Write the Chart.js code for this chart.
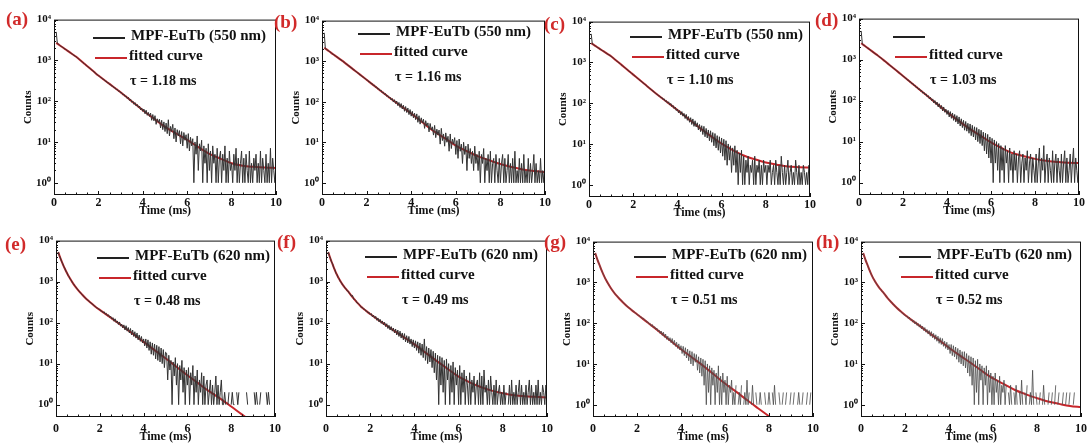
<!DOCTYPE html>
<html>
<head>
<meta charset="utf-8">
<script src="https://cdn.jsdelivr.net/npm/chart.js@4.4.0/dist/chart.umd.min.js"></script>
<style>
  body { margin: 0; width: 1088px; height: 443px; background: #fff; position: relative; overflow: hidden; font-family: "Liberation Serif", "Times New Roman", serif; }
  canvas { position: absolute; }
  .tag { position: absolute; color: #d12a2a; font-weight: bold; font-size: 19px; line-height: 1; }
  .leg-line { position: absolute; height: 2px; width: 32px; }
  .leg-text { position: absolute; font-weight: bold; color: #111; white-space: nowrap; line-height: 1; }
</style>
</head>
<body>
<script>
// time axis of the measured decays (ms)
const dataTime = [
  0.1, 0.15, 0.2, 0.25, 0.3, 0.35, 0.4, 0.45, 0.5, 0.55, 0.6, 0.65, 0.7, 0.75, 0.8, 0.85, 0.9, 0.95, 1,
  1.05, 1.1, 1.15, 1.2, 1.25, 1.3, 1.35, 1.4, 1.45, 1.5, 1.55, 1.6, 1.65, 1.7, 1.75, 1.8, 1.85, 1.9, 1.95, 2,
  2.05, 2.1, 2.15, 2.2, 2.25, 2.3, 2.35, 2.4, 2.45, 2.5, 2.55, 2.6, 2.65, 2.7, 2.75, 2.8, 2.85, 2.9, 2.95, 3,
  3.05, 3.1, 3.15, 3.2, 3.25, 3.3, 3.35, 3.4, 3.45, 3.5, 3.55, 3.6, 3.65, 3.7, 3.75, 3.8, 3.85, 3.9, 3.95, 4,
  4.05, 4.1, 4.15, 4.2, 4.25, 4.3, 4.35, 4.4, 4.45, 4.5, 4.55, 4.6, 4.65, 4.7, 4.75, 4.8, 4.85, 4.9, 4.95, 5,
  5.05, 5.1, 5.15, 5.2, 5.25, 5.3, 5.35, 5.4, 5.45, 5.5, 5.55, 5.6, 5.65, 5.7, 5.75, 5.8, 5.85, 5.9, 5.95, 6,
  6.05, 6.1, 6.15, 6.2, 6.25, 6.3, 6.35, 6.4, 6.45, 6.5, 6.55, 6.6, 6.65, 6.7, 6.75, 6.8, 6.85, 6.9, 6.95, 7,
  7.05, 7.1, 7.15, 7.2, 7.25, 7.3, 7.35, 7.4, 7.45, 7.5, 7.55, 7.6, 7.65, 7.7, 7.75, 7.8, 7.85, 7.9, 7.95, 8,
  8.05, 8.1, 8.15, 8.2, 8.25, 8.3, 8.35, 8.4, 8.45, 8.5, 8.55, 8.6, 8.65, 8.7, 8.75, 8.8, 8.85, 8.9, 8.95, 9,
  9.05, 9.1, 9.15, 9.2, 9.25, 9.3, 9.35, 9.4, 9.45, 9.5, 9.55, 9.6, 9.65, 9.7, 9.75, 9.8, 9.85, 9.9, 9.95, 10
];

// time axis of the fitted curves (ms)
const fitTime = [0.1, 0.2, 0.3, 0.4, 0.5, 0.6, 0.8, 1, 1.2, 1.4, 1.6, 1.8, 2, 2.5, 3, 3.5, 4, 4.5, 5, 5.5, 6, 6.5, 7, 7.5, 8, 8.5, 9, 9.5, 10];

// measured counts, 550 nm panels (a)-(d)
const decayA = [
  5000, 2600, 2480, 2370, 2250, 2170, 2060, 1990, 1880, 1820, 1730, 1670, 1580, 1530, 1450, 1400, 1320, 1290, 1210,
  1170, 1090, 1050, 980, 945, 880, 850, 795, 765, 712, 690, 640, 622, 575, 560, 515, 505, 462, 455, 418,
  410, 378, 375, 342, 342, 310, 312, 282, 285, 256, 258, 233, 236, 212, 214, 192, 196, 175, 178, 160,
  162, 143, 148, 130, 134, 116, 124, 104, 112, 94, 101, 84, 92, 76, 83, 70, 76, 61, 68, 56,
  64, 49, 60, 45, 53, 42, 51, 34, 47, 33, 44, 27, 37, 30, 36, 22, 34, 20, 31, 18,
  29, 16, 35, 14, 24, 18, 27, 12, 22, 10, 20, 14, 19, 9, 18, 8, 17, 11, 15, 7,
  16, 6, 13, 8, 12, 1, 10, 5, 14, 2, 9, 6, 11, 1, 8, 3, 7, 1, 9, 2,
  6, 1, 8, 3, 5, 1, 7, 1, 4, 6, 1, 5, 2, 8, 1, 4, 1, 6, 2, 3,
  1, 5, 2, 7, 1, 4, 1, 3, 6, 1, 4, 1, 5, 2, 1, 6, 1, 3, 1, 4,
  2, 5, 1, 3, 1, 6, 1, 4, 2, 1, 5, 1, 3, 1, 7, 1, 4, 2, 1, 3
];
const decayB = [
  5000, 2020, 1980, 1840, 1800, 1680, 1640, 1530, 1490, 1400, 1370, 1280, 1250, 1160, 1140, 1060, 1040, 965, 940,
  900, 835, 815, 755, 740, 680, 672, 615, 610, 560, 552, 505, 500, 455, 452, 412, 410, 375, 372, 340,
  338, 305, 308, 278, 280, 250, 256, 226, 232, 204, 210, 185, 192, 166, 172, 150, 158, 136, 142, 124,
  130, 110, 120, 98, 112, 90, 104, 80, 96, 72, 90, 66, 82, 58, 76, 54, 70, 48, 64, 44,
  58, 40, 52, 36, 50, 31, 45, 28, 40, 30, 37, 22, 34, 25, 30, 18, 29, 20, 24, 15,
  26, 13, 21, 15, 20, 9, 22, 11, 16, 8, 17, 10, 14, 6, 16, 7, 12, 9, 13, 5,
  11, 4, 12, 6, 9, 3, 10, 5, 8, 2, 9, 4, 7, 3, 6, 2, 8, 3, 5, 2,
  6, 1, 5, 3, 7, 1, 4, 2, 5, 1, 6, 1, 3, 4, 1, 5, 2, 1, 4, 1,
  3, 5, 1, 4, 1, 2, 5, 1, 3, 1, 4, 1, 6, 1, 2, 1, 4, 1, 3, 1,
  5, 1, 2, 1, 4, 1, 3, 1, 2, 5, 1, 3, 1, 2, 1, 4, 1, 2, 1, 3
];
const decayC = [
  5000, 2810, 2730, 2600, 2510, 2390, 2310, 2200, 2130, 2030, 1960, 1870, 1810, 1720, 1665, 1590, 1535, 1460, 1415,
  1335, 1280, 1205, 1155, 1085, 1040, 978, 940, 882, 848, 795, 762, 716, 690, 646, 620, 582, 560, 525, 505,
  472, 456, 425, 410, 383, 370, 345, 335, 310, 302, 280, 272, 251, 246, 226, 222, 204, 200, 184, 180,
  166, 164, 150, 150, 136, 138, 122, 128, 110, 116, 100, 108, 90, 98, 82, 88, 74, 80, 66, 72,
  58, 66, 52, 62, 48, 56, 42, 53, 38, 47, 34, 44, 30, 41, 27, 37, 26, 33, 22, 30,
  20, 28, 17, 27, 15, 24, 14, 22, 12, 21, 11, 19, 9, 18, 8, 16, 7, 15, 6, 14,
  5, 13, 4, 12, 3, 10, 4, 9, 2, 8, 3, 9, 2, 7, 1, 6, 2, 7, 1, 5,
  1, 4, 2, 5, 1, 3, 2, 4, 1, 5, 1, 3, 2, 4, 1, 3, 1, 4, 2, 3,
  1, 3, 2, 4, 1, 2, 3, 1, 4, 2, 1, 3, 1, 5, 2, 1, 3, 1, 2, 4,
  1, 2, 3, 1, 2, 1, 4, 2, 1, 3, 1, 2, 1, 3, 2, 1, 2, 1, 3, 2
];
const decayD = [
  5000, 2420, 2260, 2210, 2060, 2010, 1880, 1835, 1715, 1675, 1565, 1525, 1425, 1395, 1300, 1275, 1185, 1160, 1085,
  1050, 978, 950, 882, 860, 798, 778, 722, 703, 652, 636, 590, 576, 532, 521, 480, 470, 433, 425, 392,
  386, 352, 350, 316, 318, 286, 288, 258, 262, 232, 236, 208, 214, 188, 194, 170, 176, 152, 160, 138,
  146, 124, 132, 110, 120, 100, 110, 88, 100, 80, 92, 70, 84, 64, 76, 56, 70, 52, 62, 46,
  58, 40, 54, 37, 50, 33, 46, 30, 43, 27, 40, 24, 36, 22, 33, 19, 31, 18, 28, 16,
  27, 14, 25, 13, 23, 11, 22, 10, 20, 9, 19, 8, 17, 6, 16, 5, 15, 4, 13, 3,
  12, 1, 11, 3, 10, 2, 9, 1, 8, 2, 7, 1, 8, 3, 6, 1, 7, 2, 5, 1,
  6, 2, 5, 1, 4, 6, 1, 3, 5, 1, 4, 2, 6, 1, 3, 5, 1, 4, 2, 1,
  5, 1, 3, 7, 1, 4, 2, 8, 1, 3, 5, 1, 4, 2, 1, 6, 1, 3, 5, 1,
  4, 2, 1, 5, 1, 3, 6, 1, 4, 1, 2, 5, 1, 3, 7, 1, 4, 2, 1, 3
];

// measured counts, 620 nm panels (e)-(h); null = zero counts (no point on a log axis)
const decayE = [
  5300, 4350, 3780, 3150, 2790, 2360, 2120, 1810, 1650, 1420, 1310, 1145, 1080, 935, 885, 790, 752, 672, 640,
  580, 556, 506, 485, 440, 424, 388, 377, 347, 340, 311, 306, 282, 276, 253, 249, 229, 228, 210, 208,
  190, 192, 174, 184, 160, 168, 146, 155, 134, 142, 122, 132, 108, 124, 100, 110, 90, 104, 82, 92,
  74, 88, 66, 84, 62, 76, 56, 72, 50, 66, 46, 60, 42, 56, 38, 50, 35, 46, 32, 40,
  27, 40, 24, 38, 21, 34, 17, 32, 16, 30, 13, 28, 12, 26, 11, 24, 10, 22, 8, 19,
  18, 4, 16, 7, 12, 1, 11, 5, 14, 3, 10, 1, 9, 4, 12, 2, 8, 1, 7, 3,
  8, 1, 6, 3, 9, 1, 5, 2, 7, 1, 4, 2, 6, 1, 5, 1, 3, 4, 1, 2,
  4, 1, 3, 1, 2, 5, 1, 3, 1, 2, 4, 1, 1, 2, 1, null, 1, 2, null, 1,
  2, 1, 1, null, 2, 1, 2, null, null, null, 1, null, null, 2, 1, null, null, null, 1, null,
  2, 1, 2, 1, null, 1, 2, null, 1, null, null, 2, 1, 2, 1, null, 1, null, null, 2
];
const decayF = [
  5300, 4300, 3680, 3020, 2680, 2180, 1950, 1610, 1480, 1250, 1175, 990, 955, 825, 795, 702, 676, 598, 590,
  515, 502, 438, 462, 372, 368, 344, 302, 298, 275, 262, 232, 236, 212, 214, 190, 192, 172, 178, 156,
  166, 138, 152, 128, 142, 114, 130, 104, 120, 96, 110, 88, 102, 80, 94, 72, 86, 66, 80, 62,
  74, 56, 70, 50, 66, 46, 62, 42, 56, 38, 54, 34, 48, 32, 46, 30, 40, 26, 38, 24,
  36, 21, 34, 18, 32, 16, 30, 14, 40, 12, 26, 10, 24, 11, 22, 8, 20, 6, 18, 4,
  16, 1, 15, 3, 14, 2, 12, 1, 13, 4, 10, 1, 9, 2, 11, 1, 8, 3, 7, 1,
  9, 1, 6, 2, 7, 1, 5, 3, 1, 6, 1, 4, 2, 5, 1, 3, 4, 1, 6, 1,
  5, 1, 7, 2, 3, 1, 4, 1, 5, 2, 1, 3, 1, 4, 1, 2, 3, 1, 2, 1,
  3, 1, 2, null, 1, 3, 1, 4, 1, 2, 1, 3, 1, 2, 4, 1, 3, 1, 2, 1,
  3, 1, 2, 4, 1, 3, 1, 2, 1, 3, 1, 4, 1, 2, 1, 3, 2, 1, 3, 1
];
const decayG = [
  5300, 4300, 3680, 3050, 2670, 2200, 1940, 1630, 1470, 1250, 1140, 985, 918, 798, 755, 665, 628, 560, 535,
  482, 466, 420, 406, 370, 362, 326, 315, 288, 282, 256, 250, 230, 228, 208, 204, 188, 186, 170, 168,
  154, 156, 140, 142, 126, 132, 116, 118, 104, 108, 94, 98, 84, 92, 76, 82, 70, 76, 63, 68,
  56, 64, 50, 60, 45, 54, 40, 48, 37, 44, 33, 42, 30, 38, 27, 34, 24, 31, 22, 28,
  18, 27, 16, 25, 14, 23, 12, 21, 10, 20, 9, 18, 11, 17, 7, 15, 6, 14, 5, 13,
  3, 12, 1, 10, 2, 9, 1, 8, 3, 7, 1, 6, 2, 9, 1, 5, 1, 6, 2, 4,
  1, 5, 1, 3, 2, 4, 1, 2, 1, 3, null, 1, 2, 1, 3, null, 1, 2, 1, 4,
  1, 2, null, 1, 3, 1, null, 2, 1, null, 1, 2, 1, null, null, 2, 1, null, 1, 2,
  1, null, 2, 1, 3, 1, null, null, 2, 1, null, 1, 2, null, 1, 2, null, null, 1, 2,
  null, 1, 2, null, null, 1, 2, 1, null, 1, 2, null, null, 1, 2, null, 1, 2, null, 1
];
const decayH = [
  5300, 4300, 3680, 3020, 2680, 2190, 1950, 1620, 1480, 1260, 1170, 995, 955, 830, 795, 705, 676, 600, 590,
  520, 505, 442, 430, 380, 372, 332, 325, 288, 285, 254, 250, 226, 224, 200, 198, 180, 178, 160, 160,
  145, 150, 130, 140, 118, 126, 106, 116, 96, 108, 88, 98, 80, 92, 72, 84, 66, 78, 60, 70,
  54, 66, 48, 62, 44, 56, 40, 52, 36, 48, 32, 44, 30, 42, 27, 36, 24, 34, 22, 30,
  18, 30, 16, 28, 15, 26, 13, 24, 11, 22, 10, 20, 9, 20, 8, 18, 6, 16, 5, 15,
  3, 14, 1, 12, 2, 13, 1, 10, 4, 9, 1, 8, 3, 9, 1, 7, 2, 6, 1, 5,
  1, 6, 2, 4, 1, 5, 1, 3, 2, 4, 1, 3, null, 2, 1, 3, 1, null, 2, 1,
  3, 1, null, 2, 1, 4, 1, null, 2, 1, 3, null, 1, 2, 1, 7, 1, null, 2, 1,
  null, 1, 2, null, 1, 3, 1, null, null, 1, 2, null, 1, 2, null, 1, 3, null, 1, 2,
  null, null, 1, 2, null, 1, 2, null, 1, 2, null, null, 1, 2, null, 1, null, null, null, 1
];

// fitted curves, read at fitTime
const fitA = [2692, 2466, 2259, 2069, 1895, 1736, 1456, 1222, 989, 800, 647, 524, 424, 265, 165, 100, 60, 37.5, 23.4, 16.1, 11.2, 7.5, 5.1, 3.9, 3.0, 2.6, 2.45, 2.35, 2.3];
const fitB = [2140, 1950, 1780, 1620, 1480, 1350, 1120, 933, 765, 628, 515, 423, 347, 211, 129, 81, 51, 31, 19, 12.6, 8.3, 6.0, 4.5, 3.6, 2.9, 2.45, 2.14, 1.95, 1.82];
const fitC = [2951, 2720, 2500, 2305, 2123, 1956, 1661, 1413, 1149, 934, 759, 617, 501, 298, 178, 110, 68, 41, 25, 15.8, 10.2, 7.1, 5.2, 4.2, 3.5, 3.1, 2.8, 2.7, 2.63];
const fitD = [2512, 2290, 2090, 1905, 1740, 1585, 1320, 1096, 895, 731, 597, 488, 398, 240, 145, 87, 52.5, 33, 21, 14.2, 9.6, 6.9, 5.2, 4.4, 3.8, 3.4, 3.2, 3.05, 3.0];
const fitE = [5250, 3720, 2750, 2090, 1620, 1290, 871, 631, 479, 372, 302, 245, 204, 132, 85, 54, 34, 21.4, 13.5, 8.4, 5.2, 3.3, 2.1, 1.4, 0.9, 0.57, 0.37, 0.24, 0.155];
const fitF = [5250, 3630, 2630, 1905, 1445, 1148, 776, 575, 417, 313, 240, 197, 162, 104, 68, 45, 29.5, 18.6, 11.7, 7.5, 4.8, 3.5, 2.7, 2.2, 1.9, 1.7, 1.6, 1.55, 1.5];
const fitG = [5250, 3630, 2630, 1905, 1445, 1122, 741, 525, 398, 309, 245, 200, 166, 102, 63, 38, 23, 14.4, 9.1, 5.5, 3.3, 2.1, 1.3, 0.82, 0.52, 0.33, 0.2, 0.13, 0.08];
const fitH = [5250, 3630, 2630, 1905, 1445, 1148, 776, 575, 417, 316, 245, 195, 158, 100, 63, 40, 25, 16, 10.5, 6.7, 4.4, 3.2, 2.3, 1.8, 1.45, 1.2, 1.05, 0.93, 0.87];

const panelTags = ["(a)", "(b)", "(c)", "(d)", "(e)", "(f)", "(g)", "(h)"];
const seriesNames = ["MPF-EuTb (550 nm)", "MPF-EuTb (550 nm)", "MPF-EuTb (550 nm)", "", "MPF-EuTb (620 nm)", "MPF-EuTb (620 nm)", "MPF-EuTb (620 nm)", "MPF-EuTb (620 nm)"];
const tauLabels = ["τ = 1.18 ms", "τ = 1.16 ms", "τ = 1.10 ms", "τ = 1.03 ms", "τ = 0.48 ms", "τ = 0.49 ms", "τ = 0.51 ms", "τ = 0.52 ms"];
const decays = [decayA, decayB, decayC, decayD, decayE, decayF, decayG, decayH];
const fits = [fitA, fitB, fitC, fitD, fitE, fitF, fitG, fitH];
const yTicks = [1, 10, 100, 1000, 10000];

// page layout: plot box [left, top, right, bottom], tag position, legend anchor
const layout = [
  { box: [54, 18, 276, 195], tag: [6, 9], leg: [93, 38] },
  { box: [322, 19, 545, 195], tag: [274, 12], leg: [358, 34] },
  { box: [589, 20, 810, 197], tag: [544, 14], leg: [630, 37] },
  { box: [859, 17, 1079, 195], tag: [815, 10], leg: [893, 37] },
  { box: [56, 239, 277, 417], tag: [5, 234], leg: [97, 258] },
  { box: [326, 239, 549, 417], tag: [277, 232], leg: [365, 257] },
  { box: [593, 240, 815, 417], tag: [544, 232], leg: [634, 257] },
  { box: [861, 240, 1083, 417], tag: [816, 232], leg: [899, 257] },
];

const AXIS_W = 32;
const PAD_TOP = 8;
const PAD_RIGHT = 9;
const SUP = ["⁰", "¹", "²", "³", "⁴"];
const FONT = '"Liberation Serif", "Times New Roman", serif';
const RED = "#c8262b";

Chart.defaults.font.family = FONT;
Chart.defaults.color = "#111";

// box around the plot plus inward tick marks
const frameTicks = {
  id: "frameTicks",
  afterDraw(chart) {
    const { ctx, chartArea: a, scales } = chart;
    ctx.save();
    ctx.strokeStyle = "#111";
    ctx.lineWidth = 1;
    ctx.strokeRect(a.left + 0.5, a.top + 0.5, a.right - a.left - 1, a.bottom - a.top - 1);
    ctx.beginPath();
    for (let k = 0; k <= 20; k++) {
      const px = Math.round(scales.x.getPixelForValue(k / 2)) + 0.5;
      const len = k % 4 === 0 ? 4 : 2.5;
      ctx.moveTo(px, a.bottom);
      ctx.lineTo(px, a.bottom - len);
    }
    yTicks.forEach((d) => {
      for (let m = 1; m <= 9; m++) {
        const val = d * m;
        if (val > 10000) break;
        const py = Math.round(scales.y.getPixelForValue(val)) + 0.5;
        const len = m === 1 ? 4 : 2;
        ctx.moveTo(a.left, py);
        ctx.lineTo(a.left + len, py);
      }
    });
    ctx.stroke();
    ctx.restore();
  },
};

function addText(cls, text, left, top, size) {
  const el = document.createElement("div");
  el.className = cls;
  el.textContent = text;
  el.style.left = left + "px";
  el.style.top = top + "px";
  if (size) el.style.fontSize = size + "px";
  document.body.appendChild(el);
}

function addLine(left, top, color) {
  const el = document.createElement("div");
  el.className = "leg-line";
  el.style.left = left + "px";
  el.style.top = top + "px";
  el.style.background = color;
  document.body.appendChild(el);
}

function drawPanel(i) {
  const [L, T, R, B] = layout[i].box;
  const lowerRow = i >= 4;
  const axisH = lowerRow ? 27 : 23;
  const canvas = document.createElement("canvas");
  canvas.width = R - L + AXIS_W + PAD_RIGHT;
  canvas.height = B - T + PAD_TOP + axisH;
  canvas.style.left = L - AXIS_W + "px";
  canvas.style.top = T - PAD_TOP + "px";
  document.body.appendChild(canvas);

  const light = i >= 6;
  const measured = decays[i].map((v, k) => ({ x: dataTime[k], y: v }));
  const fitted = fits[i].map((v, k) => ({ x: fitTime[k], y: v }));

  new Chart(canvas.getContext("2d"), {
    type: "line",
    data: {
      datasets: [
        {
          data: measured,
          borderColor: light ? "#4a4a4a" : "#333",
          borderWidth: light ? 0.8 : 1,
          pointRadius: 0,
          spanGaps: false,
        },
        {
          data: fitted,
          borderColor: RED,
          borderWidth: 2,
          pointRadius: 0,
          cubicInterpolationMode: "monotone",
        },
      ],
    },
    options: {
      responsive: false,
      animation: false,
      devicePixelRatio: 1,
      layout: { padding: { top: PAD_TOP, right: PAD_RIGHT, left: 0, bottom: 0 } },
      plugins: { legend: { display: false }, tooltip: { enabled: false } },
      scales: {
        x: {
          type: "linear",
          min: 0,
          max: 10,
          grid: { display: false, drawTicks: false, tickLength: 0 },
          border: { display: false },
          ticks: {
            stepSize: 1,
            autoSkip: false,
            maxRotation: 0,
            padding: lowerRow ? 5 : 1,
            font: { size: 12, weight: "bold" },
            callback: (v) => (v % 2 === 0 ? String(v) : ""),
          },
          title: { display: true, text: "Time (ms)", font: { size: 12, weight: "bold" }, padding: 0 },
          afterFit: (s) => { s.height = axisH; },
        },
        y: {
          type: "logarithmic",
          min: 0.5,
          max: 10000,
          grid: { display: false, drawTicks: false, tickLength: 0 },
          border: { display: false },
          afterBuildTicks: (s) => { s.ticks = yTicks.map((v) => ({ value: v, major: true })); },
          ticks: {
            padding: 3,
            font: { size: 11, weight: "bold" },
            callback: (v) => "10" + SUP[Math.round(Math.log10(v))],
          },
          title: { display: true, text: "Counts", font: { size: 11, weight: "bold" }, padding: 0 },
          afterFit: (s) => { s.width = AXIS_W; },
        },
      },
    },
    plugins: [frameTicks],
  });

  // panel tag and in-plot legend
  addText("tag", panelTags[i], layout[i].tag[0], layout[i].tag[1]);
  const [ax, ay] = layout[i].leg;
  addLine(ax, ay - 1, "#222");
  if (seriesNames[i]) addText("leg-text", seriesNames[i], ax + 38, ay - 10, 15);
  addLine(ax + 2, ay + 19, RED);
  addText("leg-text", "fitted curve", ax + 36, ay + 10, 15);
  addText("leg-text", tauLabels[i], ax + 37, ay + 36, 14);
}

for (let i = 0; i < 8; i++) drawPanel(i);
</script>
</body>
</html>
